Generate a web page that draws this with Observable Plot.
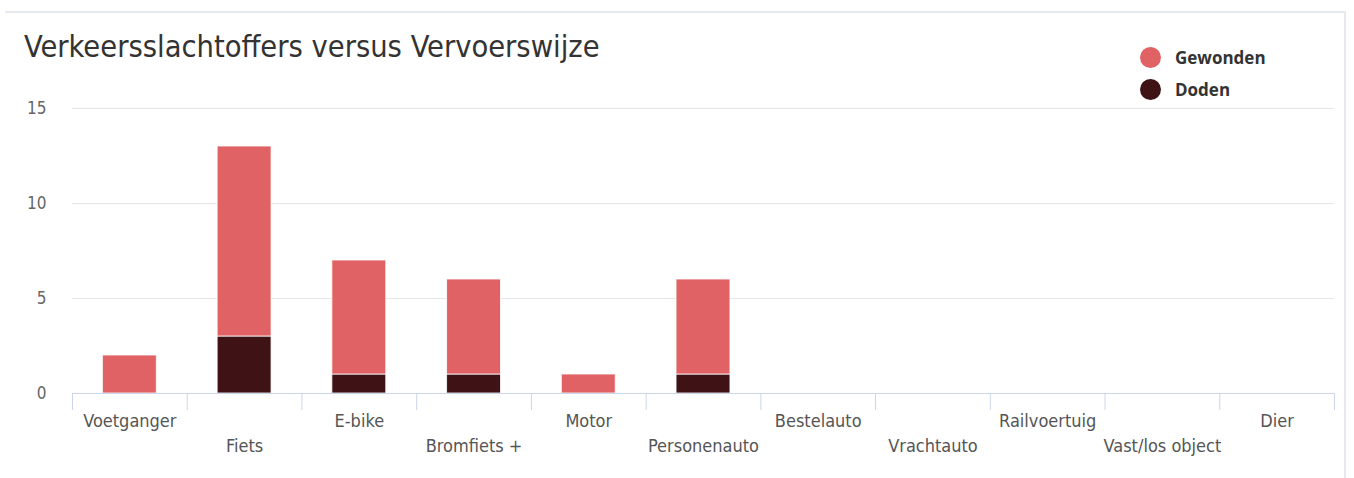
<!DOCTYPE html>
<html>
<head>
<meta charset="utf-8">
<script src="https://cdn.jsdelivr.net/npm/d3@7"></script>
<script src="https://cdn.jsdelivr.net/npm/@observablehq/plot@0.6"></script>
<style>
  html, body { margin: 0; padding: 0; background: #fff; }
  body { width: 1354px; height: 478px; position: relative; overflow: hidden;
         font-family: "Liberation Sans Narrow", "DejaVu Sans Condensed", Roboto, sans-serif; }
  #card { position: absolute; left: 5px; top: 11px; width: 1339px; height: 480px;
          border-top: 2px solid #e6e9ee; border-right: 2px solid #e6e9ee; }
  #title { position: absolute; left: 24px; top: 32px; font-size: 30.5px; color: #333;
           white-space: nowrap; line-height: 1; }
  #legend { position: absolute; left: 1140px; top: 41px; font-family: "Open Sans", sans-serif;
            font-weight: bold; font-size: 17px; color: #333; }
  .li { display: flex; align-items: center; height: 32px; }
  .dot { width: 21px; height: 21px; border-radius: 50%; margin-right: 14px; }
  #chart { position: absolute; left: 0; top: 0; }
</style>
</head>
<body>
<div id="card"></div>
<div id="chart"></div>
<div id="title">Verkeersslachtoffers versus Vervoerswijze</div>
<div id="legend"></div>
<script>
const categories = ["Voetganger", "Fiets", "E-bike", "Bromfiets +", "Motor", "Personenauto",
                    "Bestelauto", "Vrachtauto", "Railvoertuig", "Vast/los object", "Dier"];
const gewonden = [2, 10, 6, 5, 1, 5, 0, 0, 0, 0, 0];
const doden    = [0, 3, 1, 1, 0, 1, 0, 0, 0, 0, 0];
const seriesNames = ["Gewonden", "Doden"];
const seriesColors = ["#e06264", "#3f1215"];
const yTicks = [0, 5, 10, 15];

const data = [];
categories.forEach((c, i) => {
  data.push({cat: c, serie: "Doden", value: doden[i]});
  data.push({cat: c, serie: "Gewonden", value: gewonden[i]});
});

const W = 1354, H = 478;
const mL = 72, mR = 20, mT = 108, mB = 85;
const step = (W - mL - mR) / categories.length;
const font = '"Liberation Sans Narrow", "DejaVu Sans Condensed", Roboto, sans-serif';

const chart = Plot.plot({
  width: W, height: H,
  marginLeft: mL, marginRight: mR, marginTop: mT, marginBottom: mB,
  style: {fontFamily: font, background: "transparent", overflow: "visible"},
  x: {domain: categories, paddingInner: 0.53, paddingOuter: 0.265, round: false, label: null},
  y: {domain: [0, 15], label: null},
  color: {domain: seriesNames, range: seriesColors},
  marks: [
    Plot.gridY(yTicks, {stroke: "#e6e6e6", strokeOpacity: 1}),
    Plot.axisY(yTicks, {tickSize: 0, tickPadding: 26, fontSize: 17, fill: "#666", label: null}),
    Plot.barY(data, Plot.stackY({order: ["Doden", "Gewonden"]}, {
      x: "cat", y: "value", fill: "serie", stroke: "white", strokeWidth: 1, strokeOpacity: 0.8
    })),
    Plot.ruleY([0], {stroke: "#ccd6eb"}),
    Plot.axisX({tickSize: 17, text: null, stroke: "#ccd6eb", strokeOpacity: 1, dx: -step / 2, label: null}),
    Plot.axisX({ticks: [categories[categories.length - 1]], tickSize: 17, text: null, stroke: "#ccd6eb", strokeOpacity: 1, dx: step / 2, label: null}),
    Plot.axisX({ticks: categories.filter((d, i) => i % 2 === 0), tickSize: 0, tickPadding: 21,
                fontSize: 18, fill: "#555", label: null}),
    Plot.axisX({ticks: categories.filter((d, i) => i % 2 === 1), tickSize: 0, tickPadding: 46,
                fontSize: 18, fill: "#555", label: null})
  ]
});
document.getElementById("chart").appendChild(chart);

const legend = document.getElementById("legend");
seriesNames.forEach((s, i) => {
  const row = document.createElement("div");
  row.className = "li";
  row.innerHTML = `<span class="dot" style="background:${seriesColors[i]}"></span><span>${s}</span>`;
  legend.appendChild(row);
});
</script>
</body>
</html>
